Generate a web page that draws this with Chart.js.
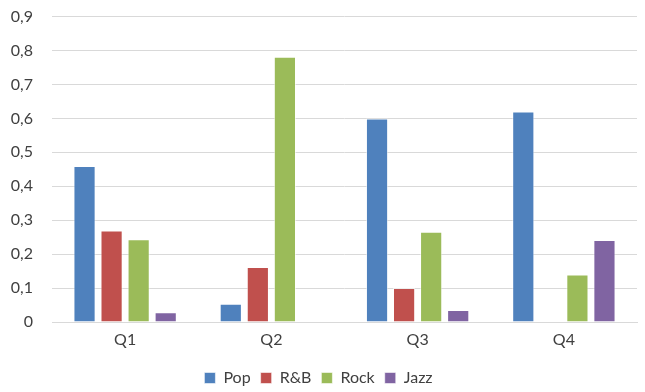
<!DOCTYPE html>
<html>
<head>
<meta charset="utf-8">
<script src="https://cdn.jsdelivr.net/npm/chart.js@4"></script>
<style>
  html, body { margin: 0; padding: 0; background: #fff; }
  #wrap { width: 645px; height: 392px; }
</style>
</head>
<body>
<div id="wrap"><canvas id="chart"></canvas></div>
<script>
const quarters = ['Q1', 'Q2', 'Q3', 'Q4']
const pop = [0.46, 0.054, 0.6, 0.62]
const rnb = [0.27, 0.162, 0.1, 0]
const rock = [0.244, 0.782, 0.266, 0.14]
const jazz = [0.029, 0, 0.035, 0.242]
const yTicks = [0, 0.1, 0.2, 0.3, 0.4, 0.5, 0.6, 0.7, 0.8, 0.9]

const fontFamily = 'Lato, "Open Sans", sans-serif'
const textColor = '#404040'
const gridColor = '#d9d9d9'

function bars(label, data, color) {
    return {
        label,
        data,
        backgroundColor: color,
        borderColor: 'rgba(255, 255, 255, 0.55)',
        borderWidth: 1,
        categoryPercentage: 0.74,
        barPercentage: 0.82,
    }
}

const ctx = document.getElementById('chart').getContext('2d')
new Chart(ctx, {
    type: 'bar',
    data: {
        labels: quarters,
        datasets: [
            bars('Pop', pop, '#4f81bd'),
            bars('R&B', rnb, '#c0504d'),
            bars('Rock', rock, '#9bbb59'),
            bars('Jazz', jazz, '#8064a2'),
        ]
    },
    options: {
        responsive: true,
        maintainAspectRatio: false,
        animation: false,
        layout: { padding: { top: 8, right: 8, left: 0, bottom: -4 } },
        plugins: {
            legend: {
                position: 'bottom',
                labels: {
                    color: textColor,
                    font: { family: fontFamily, size: 16 },
                    boxWidth: 11,
                    boxHeight: 11,
                    padding: 10,
                }
            },
            tooltip: { enabled: false }
        },
        scales: {
            x: {
                afterFit: axis => { axis.height = 38 },
                grid: { display: false, drawTicks: false },
                border: { display: true, color: gridColor, width: 1 },
                ticks: { color: textColor, font: { family: fontFamily, size: 16 }, padding: 8 },
            },
            y: {
                min: 0,
                max: 0.9,
                afterBuildTicks: axis => { axis.ticks = yTicks.map(v => ({ value: v })) },
                afterFit: axis => { axis.width = 52 },
                grid: { color: gridColor, drawTicks: true, tickLength: 12, tickColor: 'rgba(0,0,0,0)' },
                border: { display: false },
                ticks: {
                    color: textColor,
                    font: { family: fontFamily, size: 16 },
                    padding: 7,
                    callback: v => v === 0 ? '0' : v.toFixed(1).replace('.', ','),
                },
            }
        }
    }
})
</script>
</body>
</html>
